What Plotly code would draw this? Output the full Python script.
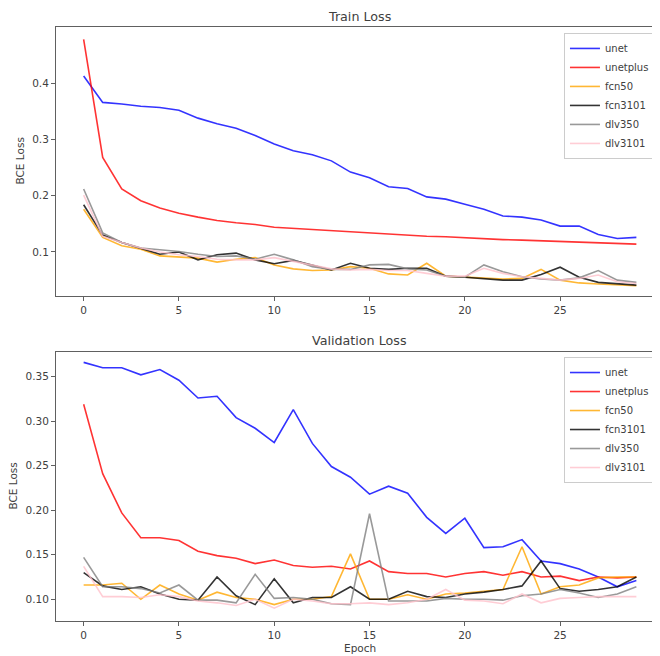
import plotly.graph_objects as go
from plotly.subplots import make_subplots

epochs = list(range(30))
model_names = ["unet", "unetplus", "fcn50", "fcn3101", "dlv350", "dlv3101"]

unet_train = [0.413,0.366,0.363,0.359,0.357,0.352,0.338,0.328,0.320,0.307,0.292,0.280,0.273,0.262,0.242,0.232,0.216,0.213,0.198,0.194,0.185,0.176,0.164,0.162,0.157,0.146,0.146,0.131,0.124,0.126]
unetplus_train = [0.478,0.268,0.212,0.191,0.178,0.169,0.162,0.156,0.152,0.149,0.144,0.142,0.140,0.137,0.136,0.133,0.131,0.129,0.128,0.127,0.125,0.124,0.122,0.121,0.120,0.119,0.118,0.116,0.115,0.114]
fcn50_train = [0.176,0.126,0.111,0.105,0.093,0.091,0.089,0.082,0.087,0.090,0.077,0.070,0.067,0.068,0.074,0.071,0.061,0.059,0.080,0.057,0.055,0.053,0.052,0.053,0.069,0.050,0.045,0.043,0.041,0.040]
fcn3101_train = [0.184,0.130,0.117,0.107,0.096,0.100,0.086,0.095,0.098,0.086,0.079,0.085,0.076,0.068,0.080,0.071,0.069,0.071,0.071,0.057,0.055,0.052,0.050,0.050,0.060,0.073,0.055,0.046,0.043,0.041]
dlv350_train = [0.212,0.134,0.117,0.107,0.104,0.101,0.096,0.092,0.093,0.087,0.096,0.086,0.074,0.069,0.069,0.077,0.078,0.070,0.068,0.057,0.055,0.077,0.065,0.056,0.052,0.050,0.054,0.067,0.050,0.046]
dlv3101_train = [0.201,0.128,0.117,0.107,0.100,0.095,0.092,0.087,0.086,0.086,0.090,0.083,0.077,0.070,0.068,0.069,0.067,0.067,0.062,0.057,0.057,0.071,0.062,0.056,0.053,0.050,0.053,0.059,0.047,0.044]

unet_val = [0.366,0.360,0.360,0.352,0.358,0.346,0.326,0.328,0.304,0.292,0.276,0.313,0.275,0.249,0.237,0.218,0.227,0.219,0.192,0.174,0.191,0.158,0.159,0.167,0.143,0.140,0.134,0.125,0.114,0.121]
unetplus_val = [0.319,0.241,0.197,0.169,0.169,0.166,0.154,0.149,0.146,0.140,0.144,0.138,0.136,0.137,0.134,0.143,0.131,0.129,0.129,0.125,0.129,0.131,0.127,0.131,0.125,0.126,0.121,0.125,0.124,0.125]
fcn50_val = [0.116,0.116,0.118,0.100,0.116,0.106,0.099,0.108,0.102,0.100,0.094,0.100,0.100,0.103,0.151,0.100,0.100,0.105,0.100,0.106,0.107,0.109,0.111,0.159,0.106,0.114,0.116,0.124,0.125,0.125]
fcn3101_val = [0.130,0.115,0.111,0.114,0.106,0.100,0.099,0.125,0.104,0.094,0.123,0.096,0.102,0.102,0.114,0.100,0.100,0.109,0.103,0.102,0.106,0.108,0.111,0.115,0.143,0.112,0.109,0.111,0.114,0.125]
dlv350_val = [0.147,0.114,0.114,0.112,0.107,0.116,0.099,0.099,0.096,0.128,0.101,0.102,0.100,0.095,0.094,0.196,0.098,0.098,0.098,0.101,0.100,0.100,0.099,0.104,0.106,0.111,0.107,0.102,0.106,0.114]
dlv3101_val = [0.137,0.103,0.103,0.102,0.105,0.103,0.098,0.096,0.093,0.100,0.090,0.100,0.098,0.095,0.095,0.096,0.094,0.096,0.100,0.111,0.099,0.098,0.095,0.106,0.096,0.101,0.102,0.103,0.103,0.103]

train_series = [unet_train, unetplus_train, fcn50_train, fcn3101_train, dlv350_train, dlv3101_train]
val_series = [unet_val, unetplus_val, fcn50_val, fcn3101_val, dlv350_val, dlv3101_val]
colors = ["rgba(0,0,255,0.8)", "rgba(255,0,0,0.8)", "rgba(255,165,0,0.8)",
          "rgba(0,0,0,0.8)", "rgba(128,128,128,0.8)", "rgba(255,192,203,0.8)"]

FONT = "DejaVu Sans"
TXT = "#404040"
SPINE = "#606060"

fig = make_subplots(rows=2, cols=1, vertical_spacing=0.0)

for name, ys, c in zip(model_names, train_series, colors):
    fig.add_trace(go.Scatter(x=epochs, y=ys, mode="lines", name=name,
                             line=dict(color=c, width=1.6), legend="legend"), row=1, col=1)
for name, ys, c in zip(model_names, val_series, colors):
    fig.add_trace(go.Scatter(x=epochs, y=ys, mode="lines", name=name,
                             line=dict(color=c, width=1.6), legend="legend2"), row=2, col=1)

axis_common = dict(showgrid=False, zeroline=False, showline=True, linecolor=SPINE, linewidth=1,
                   ticks="outside", ticklen=4, tickcolor=SPINE, automargin=False,
                   tickfont=dict(family=FONT, size=10.5, color=TXT))

fig.update_xaxes(**axis_common, mirror=True, range=[-1.45, 30.24], tickmode="array",
                 tickvals=[0, 5, 10, 15, 20, 25, 30])
fig.update_xaxes(domain=[0, 1])
fig.update_yaxes(**axis_common)
fig.update_yaxes(row=1, col=1, domain=[0.5471, 1.0], range=[0.0217, 0.500],
                 tickvals=[0.1, 0.2, 0.3, 0.4], tickformat=".1f")
fig.update_yaxes(row=2, col=1, domain=[0.0, 0.4534], range=[0.0756, 0.378],
                 tickvals=[0.10, 0.15, 0.20, 0.25, 0.30, 0.35], tickformat=".2f")

legend_common = dict(bgcolor="rgba(255,255,255,0.8)", bordercolor="#cccccc", borderwidth=1,
                     font=dict(family=FONT, size=10, color=TXT),
                     xanchor="left", yanchor="top", tracegroupgap=0)

annotations = [
    dict(text="Train Loss", x=0.503, y=1.0185, xref="paper", yref="paper", showarrow=False,
         xanchor="center", yanchor="middle", font=dict(family=FONT, size=12.7, color=TXT)),
    dict(text="Validation Loss", x=0.503, y=0.4714, xref="paper", yref="paper", showarrow=False,
         xanchor="center", yanchor="middle", font=dict(family=FONT, size=12.7, color=TXT)),
    dict(text="BCE Loss", x=-0.0596, y=0.7736, xref="paper", yref="paper", showarrow=False,
         textangle=-90, xanchor="center", yanchor="middle", font=dict(family=FONT, size=10.5, color=TXT)),
    dict(text="BCE Loss", x=-0.0705, y=0.227, xref="paper", yref="paper", showarrow=False,
         textangle=-90, xanchor="center", yanchor="middle", font=dict(family=FONT, size=10.5, color=TXT)),
    dict(text="Epoch", x=0.503, y=-0.0455, xref="paper", yref="paper", showarrow=False,
         xanchor="center", yanchor="middle", font=dict(family=FONT, size=10.5, color=TXT)),
]

# The page body adds an 8px offset, so the figure is 8px smaller and margins shifted.
fig.update_layout(
    width=652, height=648,
    margin=dict(l=48, r=0, t=19, b=35, autoexpand=False),
    paper_bgcolor="white", plot_bgcolor="white",
    font=dict(family=FONT, size=10.5, color=TXT),
    legend=dict(**legend_common, x=0.841, y=0.99),
    legend2=dict(**legend_common, x=0.841, y=0.4444),
    annotations=annotations,
    showlegend=True,
)

fig.write_html("out.html")
